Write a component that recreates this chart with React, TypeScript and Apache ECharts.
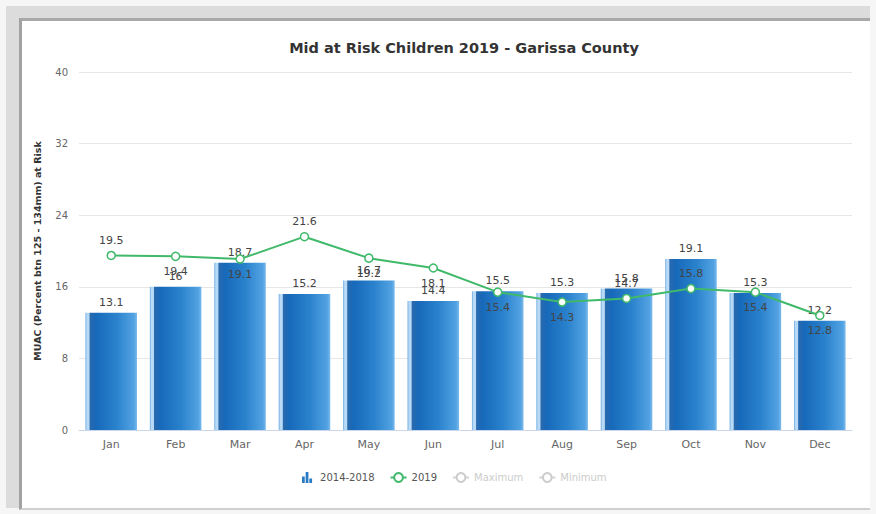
import React, { useEffect, useRef } from "react";
import * as echarts from "echarts";

// Monthly MUAC at-risk percentages, Garissa County
const months = ["Jan", "Feb", "Mar", "Apr", "May", "Jun", "Jul", "Aug", "Sep", "Oct", "Nov", "Dec"];
const baseline2014_2018 = [13.1, 16.0, 18.7, 15.2, 16.7, 14.4, 15.5, 15.3, 15.8, 19.1, 15.3, 12.2];
const values2019 = [19.5, 19.4, 19.1, 21.6, 19.2, 18.1, 15.4, 14.3, 14.7, 15.8, 15.4, 12.8];
const yTicks = { min: 0, max: 40, interval: 8 };

const TITLE = "Mid at Risk Children 2019 - Garissa County";
const Y_NAME = "MUAC (Percent btn 125 - 134mm) at Risk";
const FONT = '"DejaVu Sans", Verdana, sans-serif';

// which side of each 2019 point its label sits on
const lineLabelSide = ["top", "bottom", "bottom", "top", "bottom", "bottom", "bottom", "bottom", "top", "top", "bottom", "bottom"];

const barGradient = {
  type: "linear",
  x: 0,
  y: 0,
  x2: 1,
  y2: 0,
  colorStops: [
    { offset: 0, color: "#6aa9e0" },
    { offset: 0.03, color: "#b8daf6" },
    { offset: 0.07, color: "#b8daf6" },
    { offset: 0.09, color: "#2a69ad" },
    { offset: 0.2, color: "#1769ba" },
    { offset: 0.6, color: "#2a82cc" },
    { offset: 0.94, color: "#52a2e2" },
    { offset: 1, color: "#78b9ec" },
  ],
};

const GREEN = "#41b96b";

export default function App() {
  const ref = useRef<HTMLDivElement>(null);

  useEffect(() => {
    if (!ref.current) return;
    const chart = echarts.init(ref.current, null, { renderer: "svg" });

    const option = {
      animation: false,
      textStyle: { fontFamily: FONT },
      graphic: [
        {
          type: "text",
          x: 464,
          y: 48,
          style: {
            text: TITLE,
            align: "center",
            verticalAlign: "middle",
            font: `bold 14.5px ${FONT}`,
            fill: "#333333",
          },
        },
      ],
      grid: { left: 79, right: 24, top: 72, bottom: 84 },
      legend: {
        top: 467,
        left: 297,
        itemGap: 15,
        itemWidth: 16,
        itemHeight: 11,
        textStyle: { color: "#555", fontSize: 10, fontFamily: FONT },
        inactiveColor: "#cccccc",
        selected: { Maximum: false, Minimum: false },
        data: [
          {
            name: "2014-2018",
            icon: "path://M0,12 L0,5 L3,5 L3,12 Z M4,12 L4,0 L7,0 L7,12 Z M8,12 L8,7 L11,7 L11,12 Z",
            itemStyle: { color: "#2b7bc4" },
          },
          { name: "2019" },
          { name: "Maximum" },
          { name: "Minimum" },
        ],
      },
      xAxis: {
        type: "category",
        data: months,
        boundaryGap: true,
        axisLine: { lineStyle: { color: "#ccd6eb" } },
        axisTick: { show: false },
        axisLabel: { color: "#666", fontSize: 11, margin: 9, fontFamily: FONT },
      },
      yAxis: {
        type: "value",
        min: yTicks.min,
        max: yTicks.max,
        interval: yTicks.interval,
        name: Y_NAME,
        nameLocation: "middle",
        nameGap: 37,
        nameRotate: 90,
        nameTextStyle: {
          color: "#333",
          fontSize: 9.5,
          fontWeight: "bold",
          fontFamily: FONT,
          padding: [0, 0, 0, 0],
        },
        axisLine: { show: false },
        axisTick: { show: false },
        axisLabel: { color: "#666", fontSize: 10, margin: 11, fontFamily: FONT },
        splitLine: { lineStyle: { color: "#e6e6e6" } },
      },
      series: [
        {
          name: "2014-2018",
          type: "bar",
          data: baseline2014_2018,
          barWidth: "80%",
          itemStyle: { color: barGradient },
          label: {
            show: true,
            position: "top",
            distance: 5,
            color: "#444",
            fontSize: 11,
            fontFamily: FONT,
          },
          z: 2,
        },
        {
          name: "2019",
          type: "line",
          data: values2019.map((v, i) => ({
            value: v,
            label: { position: lineLabelSide[i] },
          })),
          color: GREEN,
          lineStyle: { color: GREEN, width: 2 },
          symbol: "circle",
          symbolSize: 8,
          itemStyle: { color: "#ffffff", borderColor: GREEN, borderWidth: 1.5 },
          label: {
            show: true,
            distance: 5,
            color: "#444",
            fontSize: 11,
            fontFamily: FONT,
          },
          z: 3,
        },
        { name: "Maximum", type: "line", data: [], color: "#999" },
        { name: "Minimum", type: "line", data: [], color: "#999" },
      ],
    };

    chart.setOption(option as any);
    return () => chart.dispose();
  }, []);

  return (
    <div
      style={{
        position: "fixed",
        left: 0,
        top: 0,
        width: 876,
        height: 514,
        background: "#f6f6f6",
        overflow: "hidden",
      }}
    >
      <div style={{ position: "absolute", left: 6, top: 6, width: 864, height: 502, background: "#dcdcdc" }} />
      <div
        style={{
          position: "absolute",
          left: 19,
          top: 18,
          width: 851,
          height: 492,
          background: "#ffffff",
          borderTop: "3px solid #a9a9a9",
          borderLeft: "3px solid #a2a2a2",
          borderBottom: "2px solid #cfcfcf",
          boxSizing: "border-box",
        }}
      />
      <div ref={ref} style={{ position: "absolute", left: 0, top: 0, width: 876, height: 514 }} />
    </div>
  );
}
